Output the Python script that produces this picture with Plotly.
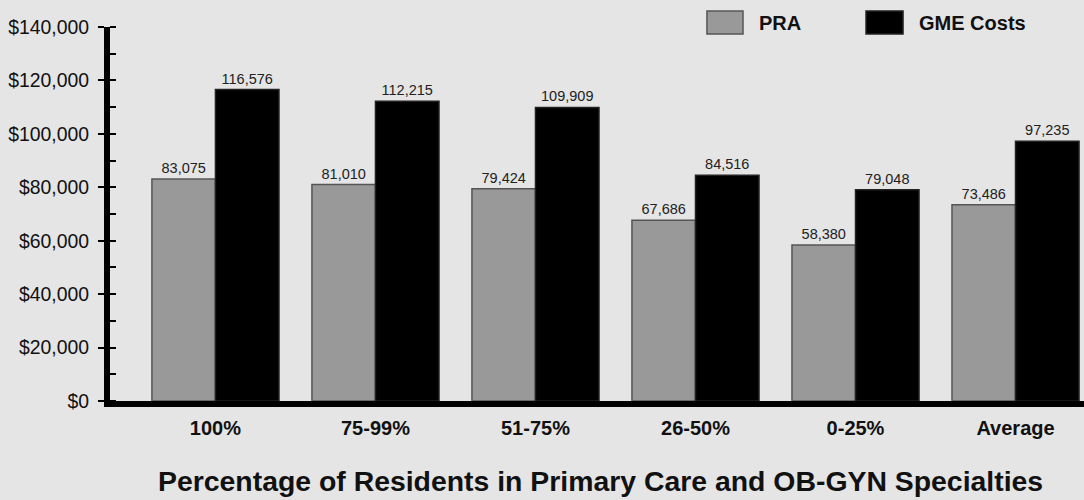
import plotly.graph_objects as go

categories = ["100%", "75-99%", "51-75%", "26-50%", "0-25%", "Average"]
pra = [83075, 81010, 79424, 67686, 58380, 73486]
gme = [116576, 112215, 109909, 84516, 79048, 97235]
series_names = ["PRA", "GME Costs"]
x_title = "Percentage of Residents in Primary Care and OB-GYN Specialties"

SANS = "Liberation Sans, Arial, sans-serif"
BG = "#e5e5e5"

fig = go.Figure()
fig.add_trace(go.Bar(
    x=categories, y=pra, name=series_names[0],
    marker=dict(color="#999999", line=dict(color="#555555", width=1.5)),
    texttemplate="%{y:,}", textposition="outside",
    textfont=dict(family=SANS, size=14.5, color="#222222"),
    cliponaxis=False,
))
fig.add_trace(go.Bar(
    x=categories, y=gme, name=series_names[1],
    marker=dict(color="#000000", line=dict(color="#222222", width=1.5)),
    texttemplate="%{y:,}", textposition="outside",
    textfont=dict(family=SANS, size=14.5, color="#222222"),
    cliponaxis=False,
))

fig.update_layout(
    width=1084, height=500,
    margin=dict(l=110, r=0, t=27, b=99),
    paper_bgcolor=BG, plot_bgcolor=BG,
    barmode="group", bargap=0.206, bargroupgap=0,
    showlegend=False,
    font=dict(family=SANS, color="#111111"),
)
fig.update_xaxes(
    range=[-0.659, 5.428],
    showline=True, linewidth=6, linecolor="black",
    ticks="", showgrid=False, zeroline=False,
    ticklabelstandoff=4,
    tickfont=dict(family=SANS, size=20, color="#111111", weight="bold"),
)
fig.update_yaxes(
    range=[0, 140000], dtick=20000, tickprefix="$", tickformat=",d",
    showline=True, linewidth=6, linecolor="black",
    ticks="outside", ticklen=6, tickwidth=2, tickcolor="black",
    minor=dict(ticks="inside", dtick=10000, ticklen=6, tickwidth=2, tickcolor="black"),
    showgrid=False, zeroline=False,
    ticklabelstandoff=5,
    tickfont=dict(family=SANS, size=19.4, color="#111111"),
)

# legend drawn as shapes + text
legend_items = [
    (series_names[0], "#999999", "#555555", 0.6129, 0.6499, 0.6643),
    (series_names[1], "#000000", "#222222", 0.7762, 0.8142, 0.8285),
]
for name, fill, edge, x0, x1, xt in legend_items:
    fig.add_shape(type="rect", xref="paper", yref="paper",
                  x0=x0, x1=x1, y0=0.9813, y1=1.0428,
                  fillcolor=fill, line=dict(color=edge, width=1.5))
    fig.add_annotation(xref="paper", yref="paper", x=xt, y=1.0107,
                       xanchor="left", yanchor="middle", showarrow=False,
                       text=name,
                       font=dict(family=SANS, size=20, color="#111111", weight="bold"))

fig.add_annotation(xref="paper", yref="paper", x=(600 - 110) / 974, y=-0.214,
                   xanchor="center", yanchor="middle", showarrow=False,
                   text=x_title,
                   font=dict(family=SANS, size=28.4, color="#111111", weight="bold"))

fig.write_html(
    "out.html",
    config={"displayModeBar": False},
    post_script="document.body.style.margin='0';document.body.style.padding='0';"
                "document.body.style.overflow='hidden';",
)
